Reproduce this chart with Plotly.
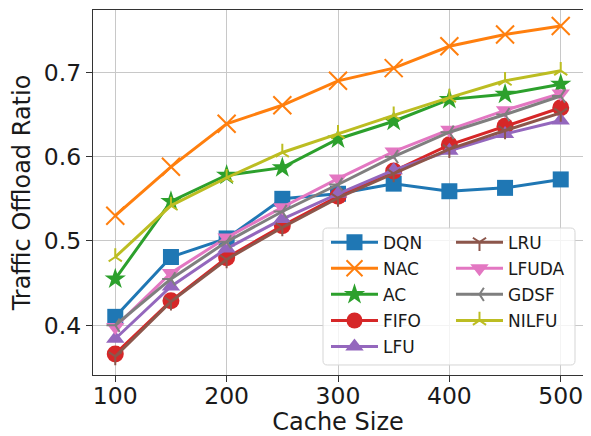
import plotly.graph_objects as go

cache_size = [100, 150, 200, 250, 300, 350, 400, 450, 500]

dqn   = [0.410, 0.481, 0.503, 0.550, 0.556, 0.568, 0.559, 0.563, 0.573]
nac   = [0.530, 0.588, 0.639, 0.661, 0.690, 0.705, 0.731, 0.745, 0.755]
ac    = [0.455, 0.547, 0.578, 0.587, 0.621, 0.642, 0.668, 0.674, 0.686]
fifo  = [0.366, 0.429, 0.480, 0.518, 0.553, 0.583, 0.614, 0.636, 0.658]
lfu   = [0.384, 0.446, 0.491, 0.526, 0.556, 0.584, 0.607, 0.627, 0.643]
lru   = [0.363, 0.428, 0.478, 0.516, 0.551, 0.580, 0.609, 0.631, 0.652]
lfuda = [0.398, 0.462, 0.504, 0.540, 0.574, 0.606, 0.632, 0.655, 0.675]
gdsf  = [0.400, 0.455, 0.499, 0.535, 0.567, 0.600, 0.629, 0.650, 0.672]
nilfu = [0.481, 0.542, 0.575, 0.605, 0.627, 0.649, 0.670, 0.690, 0.702]

x_ticks = [100, 200, 300, 400, 500]
y_ticks = [0.4, 0.5, 0.6, 0.7]
y_tick_text = ["0.4", "0.5", "0.6", "0.7"]

series = [
    ("DQN", dqn, "#1f77b4", "square", 16, "legend"),
    ("NAC", nac, "#ff7f0e", "x-thin-open", 18, "legend"),
    ("AC", ac, "#2ca02c", "star", 16, "legend"),
    ("FIFO", fifo, "#d62728", "circle", 17, "legend"),
    ("LFU", lfu, "#9467bd", "triangle-up", 16, "legend"),
    ("LRU", lru, "#8c564b", "y-down-open", 11, "legend2"),
    ("LFUDA", lfuda, "#e377c2", "triangle-down", 16, "legend2"),
    ("GDSF", gdsf, "#7f7f7f", "y-left-open", 11, "legend2"),
    ("NILFU", nilfu, "#bcbd22", "y-up-open", 11, "legend2"),
]

FONT = "DejaVu Sans"
fig = go.Figure()
for name, vals, color, sym, size, leg in series:
    open_sym = sym.endswith("open")
    fig.add_trace(go.Scatter(
        x=cache_size, y=vals, name=name, mode="lines+markers",
        legend=leg, legendgroup=name,
        line=dict(color=color, width=3),
        marker=dict(symbol=sym, size=size, color=color,
                    line=dict(color=color, width=2 if open_sym else 0)),
    ))

# rounded legend frame (paper coordinates)
x0, x1, y0, y1 = 0.4694, 0.9837, 0.0274, 0.4027
rx, ry = 0.009, 0.012
frame = (f"M{x0+rx},{y0} L{x1-rx},{y0} Q{x1},{y0} {x1},{y0+ry} "
         f"L{x1},{y1-ry} Q{x1},{y1} {x1-rx},{y1} "
         f"L{x0+rx},{y1} Q{x0},{y1} {x0},{y1-ry} "
         f"L{x0},{y0+ry} Q{x0},{y0} {x0+rx},{y0} Z")
fig.add_shape(type="path", xref="paper", yref="paper", path=frame,
              fillcolor="rgba(255,255,255,0.8)",
              line=dict(color="#d5d5d5", width=1), layer="above")

legend_common = dict(
    bgcolor="rgba(0,0,0,0)", borderwidth=0,
    font=dict(family=FONT, size=17, color="#1a1a1a"),
    itemwidth=47, tracegroupgap=1, traceorder="grouped",
    xanchor="left", yanchor="top",
)

fig.update_layout(
    width=583, height=428,
    margin=dict(l=85, r=8, t=2, b=61, autoexpand=False),
    paper_bgcolor="white", plot_bgcolor="white",
    font=dict(family=FONT, size=24, color="#1a1a1a"),
    legend=dict(x=0.4755, y=0.412, **legend_common),
    legend2=dict(x=0.7306, y=0.412, **legend_common),
    xaxis=dict(
        range=[80, 520], tickvals=x_ticks, showgrid=True, automargin=False,
        gridcolor="#c8c8c8", gridwidth=1,
        showline=True, linecolor="#333333", linewidth=1.2, mirror=True,
        ticks="outside", ticklen=6, tickcolor="#333333",
        ticklabelstandoff=-6,
        tickfont=dict(family=FONT, size=23.5, color="#1a1a1a"),
        title=dict(text="Cache Size", font=dict(family=FONT, size=24), standoff=10),
        zeroline=False,
    ),
    yaxis=dict(
        range=[0.341, 0.774], tickvals=y_ticks, ticktext=y_tick_text, showgrid=True,
        automargin=False,
        gridcolor="#c8c8c8", gridwidth=1,
        showline=True, linecolor="#333333", linewidth=1.2, mirror=True,
        ticks="outside", ticklen=6, tickcolor="#333333",
        tickfont=dict(family=FONT, size=23.5, color="#1a1a1a"),
        title=dict(text="Traffic Offload Ratio", font=dict(family=FONT, size=24), standoff=7),
        zeroline=False,
    ),
)

fig.write_html("out.html")
